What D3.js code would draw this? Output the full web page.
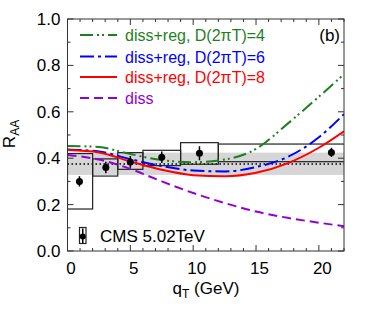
<!DOCTYPE html>
<html>
<head>
<meta charset="utf-8">
<script src="https://cdn.jsdelivr.net/npm/d3@7"></script>
<style>
  body { margin: 0; background: #fff; }
  text { font-family: "Liberation Sans", Arial, sans-serif; }
</style>
</head>
<body>
<svg id="raa" width="374" height="320"></svg>
<script>
// model curves, sampled in q_T (GeV)
const qGrid = [0, 2.5, 5, 7.5, 10, 12.5, 15, 17.5, 20, 22];
const rD4   = [0.453, 0.448, 0.418, 0.392, 0.383, 0.394, 0.44, 0.548, 0.665, 0.762];
const rD6   = [0.438, 0.429, 0.396, 0.366, 0.347, 0.343, 0.362, 0.405, 0.49, 0.59];
const rD8   = [0.435, 0.425, 0.386, 0.35, 0.327, 0.322, 0.337, 0.378, 0.445, 0.516];
const rDiss = [0.414, 0.394, 0.354, 0.30, 0.25, 0.207, 0.17, 0.143, 0.122, 0.107];

// CMS 5.02 TeV data
const cmsQ    = [0.95, 3.05, 5.0, 7.5, 10.5, 21.0];
const cmsR    = [0.30, 0.36, 0.384, 0.404, 0.421, 0.425];
const cmsStat = [0.022, 0.025, 0.025, 0.025, 0.03, 0.02];
const binLo   = [0, 2, 4, 6, 9, 12];
const binHi   = [2, 4, 6, 9, 12, 30];
const sysLo   = [0.181, 0.323, 0.352, 0.368, 0.374, 0.385];
const sysHi   = [0.42, 0.397, 0.424, 0.434, 0.467, 0.461];

// global uncertainty band
const bandLo = 0.328, bandHi = 0.424, bandMid = 0.375;

const seriesNames = ["diss+reg, D(2\u03c0T)=4", "diss+reg, D(2\u03c0T)=6", "diss+reg, D(2\u03c0T)=8", "diss"];
const seriesVals = [rD4, rD6, rD8, rDiss];
const seriesColors = ["#1f7f1f", "#0000ff", "#ff0000", "#9400d3"];
const seriesDash = ["13,4,2,3,2,4", "14,4,3,4", null, "9,5"];

const yTicks = [0, 0.2, 0.4, 0.6, 0.8, 1.0];
const xTicks = [0, 5, 10, 15, 20];

let svg = d3.select("svg#raa");
let pL = 67.5, pR = 344, pT = 19, pB = 251;

let x = d3.scaleLinear().domain([0, 22]).range([pL, pR]);
let y = d3.scaleLinear().domain([0, 1]).range([pB, pT]);

svg.append("defs").append("clipPath").attr("id", "clip")
  .append("rect").attr("x", pL).attr("y", pT)
  .attr("width", pR - pL).attr("height", pB - pT);

let plot = svg.append("g").attr("clip-path", "url(#clip)");

// band
plot.append("rect")
  .attr("x", pL).attr("width", pR - pL)
  .attr("y", y(bandHi)).attr("height", y(bandLo) - y(bandHi))
  .attr("fill", "#d6d6d6");
plot.append("line")
  .attr("x1", pL).attr("x2", pR)
  .attr("y1", y(bandMid)).attr("y2", y(bandMid))
  .attr("stroke", "#000").attr("stroke-width", 1.5).attr("stroke-dasharray", "1.5,2.5");

// systematic boxes
plot.selectAll("rect.sys")
  .data(cmsQ)
  .join("rect")
  .attr("class", "sys")
  .attr("x", (d, i) => x(binLo[i]))
  .attr("width", (d, i) => x(binHi[i]) - x(binLo[i]))
  .attr("y", (d, i) => y(sysHi[i]))
  .attr("height", (d, i) => y(sysLo[i]) - y(sysHi[i]))
  .attr("fill", "none").attr("stroke", "#222").attr("stroke-width", 1.2);

// model curves
let line = d3.line().curve(d3.curveMonotoneX);
seriesVals.forEach((vals, k) => {
  plot.append("path")
    .attr("d", line(qGrid.map((q, i) => [x(q), y(vals[i])])))
    .attr("fill", "none")
    .attr("stroke", seriesColors[k]).attr("stroke-width", 2)
    .attr("stroke-dasharray", seriesDash[k]);
});

// data points
plot.selectAll("line.err")
  .data(cmsQ)
  .join("line")
  .attr("class", "err")
  .attr("x1", d => x(d)).attr("x2", d => x(d))
  .attr("y1", (d, i) => y(cmsR[i] - cmsStat[i]))
  .attr("y2", (d, i) => y(cmsR[i] + cmsStat[i]))
  .attr("stroke", "#000").attr("stroke-width", 1.5);
plot.selectAll("circle.pt")
  .data(cmsQ)
  .join("circle")
  .attr("class", "pt")
  .attr("cx", d => x(d)).attr("cy", (d, i) => y(cmsR[i]))
  .attr("r", 3.5).attr("fill", "#000");

// frame and ticks
svg.append("rect")
  .attr("x", pL).attr("y", pT)
  .attr("width", pR - pL).attr("height", pB - pT)
  .attr("fill", "none").attr("stroke", "#333").attr("stroke-width", 1);

let ticks = svg.append("g").attr("stroke", "#333").attr("stroke-width", 1);
d3.range(0, 23, 1).forEach(q => {
  let len = q % 5 === 0 ? 6 : 3;
  ticks.append("line").attr("x1", x(q)).attr("x2", x(q)).attr("y1", pB).attr("y2", pB - len);
  ticks.append("line").attr("x1", x(q)).attr("x2", x(q)).attr("y1", pT).attr("y2", pT + len);
});
d3.range(0, 11, 1).forEach(j => {
  let v = j / 10, len = j % 2 === 0 ? 6 : 3;
  ticks.append("line").attr("x1", pL).attr("x2", pL + len).attr("y1", y(v)).attr("y2", y(v));
  ticks.append("line").attr("x1", pR).attr("x2", pR - len).attr("y1", y(v)).attr("y2", y(v));
});

// tick labels
svg.selectAll("text.yt")
  .data(yTicks)
  .join("text")
  .attr("class", "yt")
  .attr("x", pL - 7).attr("y", d => y(d) + 6)
  .attr("text-anchor", "end").attr("font-size", 17)
  .text(d => d.toFixed(1));
svg.selectAll("text.xt")
  .data(xTicks)
  .join("text")
  .attr("class", "xt")
  .attr("x", d => x(d) + 3.5).attr("y", 274)
  .attr("text-anchor", "middle").attr("font-size", 17)
  .text(d => d);

// axis titles
let xl = svg.append("text").attr("x", 206).attr("y", 294)
  .attr("text-anchor", "middle").attr("font-size", 17);
xl.append("tspan").text("q");
xl.append("tspan").attr("font-size", 12).attr("dy", 4).text("T");
xl.append("tspan").attr("dy", -4).text(" (GeV)");

let yl = svg.append("text").attr("transform", "translate(15,134) rotate(-90)")
  .attr("text-anchor", "middle").attr("font-size", 17);
yl.append("tspan").text("R");
yl.append("tspan").attr("font-size", 12).attr("dy", 4).text("AA");

svg.append("text").attr("x", 340).attr("y", 41)
  .attr("text-anchor", "end").attr("font-size", 17).text("(b)");

// legend
let legY = [35, 56.5, 77, 98];
seriesNames.forEach((name, k) => {
  svg.append("line")
    .attr("x1", 80).attr("x2", 117).attr("y1", legY[k]).attr("y2", legY[k])
    .attr("stroke", seriesColors[k]).attr("stroke-width", 2)
    .attr("stroke-dasharray", seriesDash[k]);
  svg.append("text")
    .attr("x", 125).attr("y", legY[k] + 6)
    .attr("font-size", 16).attr("fill", seriesColors[k])
    .text(name);
});

// CMS legend
svg.append("rect").attr("x", 79.5).attr("y", 227.5).attr("width", 6.5).attr("height", 16)
  .attr("fill", "none").attr("stroke", "#222").attr("stroke-width", 1.2);
svg.append("line").attr("x1", 82.75).attr("x2", 82.75).attr("y1", 228.5).attr("y2", 243)
  .attr("stroke", "#000").attr("stroke-width", 1.5);
svg.append("circle").attr("cx", 82.75).attr("cy", 236.5).attr("r", 3).attr("fill", "#000");
svg.append("text").attr("x", 100).attr("y", 242)
  .attr("font-size", 17).text("CMS 5.02TeV");
</script>
</body>
</html>
